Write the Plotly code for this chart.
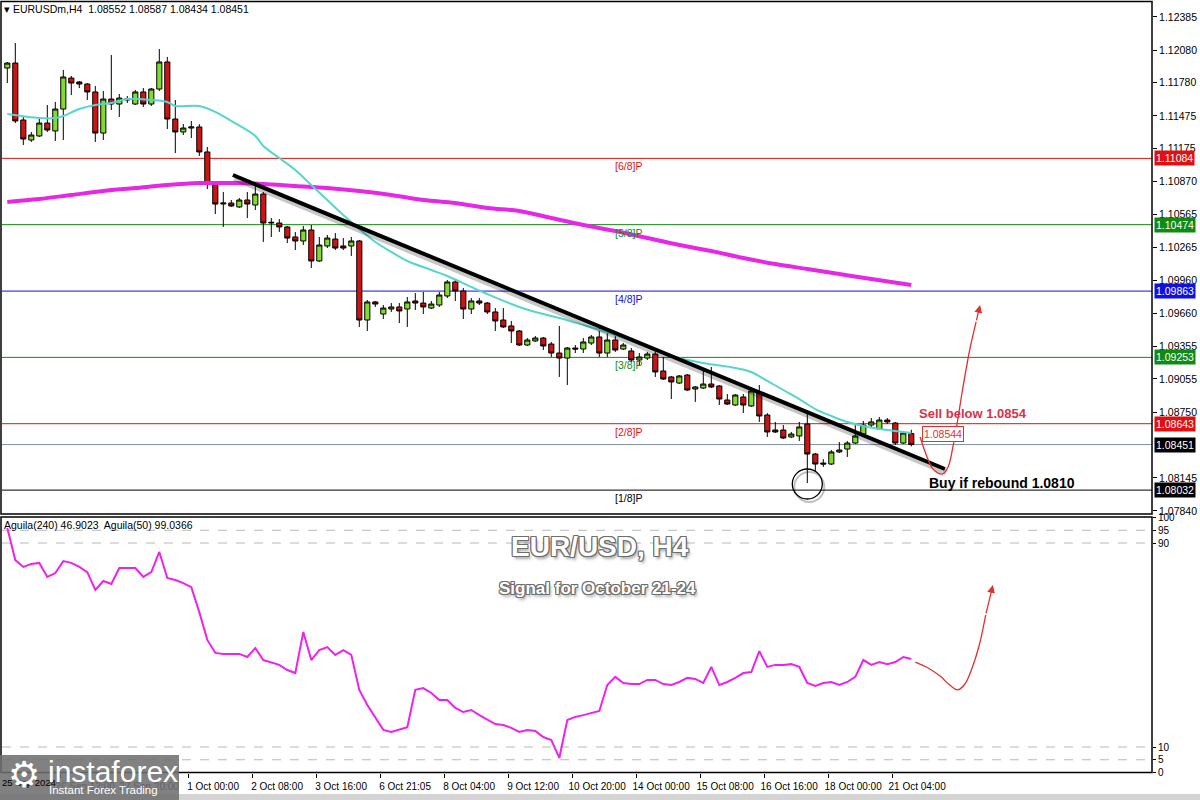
import plotly.graph_objects as go

# ---------------- data ----------------
bar = list(range(114))
open_ = [1.11915,1.11961,1.11437,1.11253,1.11290,1.11409,1.11336,1.11538,1.11823,1.11787,
         1.11768,1.11695,1.11317,1.11630,1.11584,1.11621,1.11584,1.11695,1.11584,1.11722,
         1.11971,1.11446,1.11327,1.11363,1.11373,1.11143,1.10848,1.10664,1.10673,1.10637,
         1.10701,1.10655,1.10756,1.10489,1.10489,1.10453,1.10361,1.10324,1.10425,1.10140,
         1.10278,1.10342,1.10278,1.10278,1.10324,1.09597,1.09763,1.09652,1.09698,1.09717,
         1.09698,1.09772,1.09753,1.09707,1.09735,1.09818,1.09947,1.09864,1.09698,1.09772,
         1.09753,1.09671,1.09597,1.09542,1.09496,1.09367,1.09404,1.09431,1.09376,1.09293,
         1.09247,1.09339,1.09330,1.09385,1.09441,1.09293,1.09413,1.09330,1.09312,1.09229,
         1.09247,1.09284,1.09128,1.09073,1.09017,1.09091,1.08962,1.08971,1.09008,1.08990,
         1.08861,1.08815,1.08889,1.08806,1.08935,1.08723,1.08585,1.08585,1.08521,1.08530,
         1.08640,1.08364,1.08281,1.08272,1.08383,1.08410,1.08465,1.08548,1.08631,1.08594,
         1.08677,1.08649,1.08465,1.08552]
high = [1.11971,1.12145,1.11474,1.11327,1.11455,1.11575,1.11603,1.11897,1.11842,1.11796,
        1.11777,1.11750,1.11704,1.12035,1.11676,1.11658,1.11713,1.11731,1.11731,1.12090,
        1.12017,1.11621,1.11400,1.11428,1.11400,1.11189,1.10857,1.10775,1.10701,1.10719,
        1.10775,1.10839,1.10775,1.10535,1.10526,1.10462,1.10407,1.10462,1.10471,1.10361,
        1.10379,1.10397,1.10351,1.10361,1.10333,1.09781,1.09772,1.09735,1.09753,1.09753,
        1.09809,1.09845,1.09855,1.09772,1.09855,1.09965,1.09974,1.09891,1.09799,1.09799,
        1.09763,1.09707,1.09707,1.09588,1.09505,1.09431,1.09450,1.09441,1.09395,1.09542,
        1.09349,1.09367,1.09431,1.09459,1.09523,1.09496,1.09477,1.09385,1.09339,1.09293,
        1.09303,1.09339,1.09257,1.09082,1.09091,1.09100,1.08990,1.09128,1.09165,1.08999,
        1.08916,1.08916,1.08916,1.08971,1.08999,1.08741,1.08659,1.08631,1.08567,1.08659,
        1.08732,1.08373,1.08318,1.08401,1.08475,1.08484,1.08640,1.08668,1.08695,1.08705,
        1.08695,1.08659,1.08576,1.08587]
low = [1.11777,1.11409,1.11207,1.11235,1.11281,1.11327,1.11244,1.11253,1.11667,1.11731,
       1.11621,1.11235,1.11253,1.11529,1.11465,1.11593,1.11575,1.11557,1.11566,1.11704,
       1.11354,1.11133,1.11299,1.11271,1.11106,1.10802,1.10572,1.10453,1.10637,1.10627,
       1.10535,1.10609,1.10315,1.10361,1.10407,1.10305,1.10241,1.10287,1.10075,1.10131,
       1.10259,1.10241,1.10241,1.10186,1.09533,1.09496,1.09717,1.09606,1.09671,1.09569,
       1.09533,1.09689,1.09652,1.09698,1.09717,1.09799,1.09772,1.09606,1.09652,1.09735,
       1.09652,1.09496,1.09524,1.09385,1.09358,1.09358,1.09395,1.09321,1.09257,1.09073,
       1.08999,1.09293,1.09293,1.09367,1.09257,1.09257,1.09303,1.09321,1.09211,1.09183,
       1.09229,1.09073,1.09045,1.08870,1.09008,1.08944,1.08843,1.08962,1.08971,1.08815,
       1.08815,1.08806,1.08741,1.08797,1.08659,1.08521,1.08557,1.08502,1.08511,1.08484,
       1.08097,1.08199,1.08245,1.08263,1.08373,1.08337,1.08456,1.08530,1.08613,1.08585,
       1.08640,1.08447,1.08456,1.08434]
close = [1.11961,1.11428,1.11262,1.11299,1.11409,1.11345,1.11538,1.11833,1.11777,1.11768,
         1.11695,1.11317,1.11630,1.11584,1.11639,1.11630,1.11695,1.11584,1.11722,1.11971,
         1.11446,1.11327,1.11363,1.11373,1.11143,1.10848,1.10664,1.10673,1.10646,1.10701,
         1.10664,1.10756,1.10489,1.10495,1.10453,1.10351,1.10324,1.10425,1.10140,1.10287,
         1.10351,1.10259,1.10259,1.10324,1.09597,1.09763,1.09744,1.09707,1.09717,1.09680,
         1.09763,1.09753,1.09717,1.09744,1.09827,1.09947,1.09864,1.09698,1.09772,1.09753,
         1.09671,1.09588,1.09533,1.09496,1.09367,1.09413,1.09431,1.09358,1.09293,1.09247,
         1.09339,1.09330,1.09395,1.09441,1.09293,1.09413,1.09321,1.09367,1.09229,1.09257,
         1.09284,1.09119,1.09054,1.09027,1.09082,1.08953,1.08981,1.09008,1.08981,1.08870,
         1.08824,1.08907,1.08815,1.08944,1.08714,1.08567,1.08567,1.08511,1.08548,1.08613,
         1.08364,1.08272,1.08272,1.08383,1.08401,1.08465,1.08530,1.08631,1.08659,1.08677,
         1.08659,1.08465,1.08557,1.08451]

ma_fast_x = [0,4,6,7,9,11,13,15,18,20,21,24,26,28,31,32,34,36,38,40,42,44,46,48,50,53,55,58,60,
             64,66,69,72,76,80,83,87,91,93,95,97,99,101,103,105,107,109,111,113]
ma_fast_y = [1.11492,1.11455,1.11455,1.11474,1.11538,1.11575,1.11593,1.11630,1.11621,1.11603,
             1.11566,1.11566,1.11511,1.11428,1.11290,1.11198,1.11087,1.10977,1.10839,1.10701,
             1.10563,1.10434,1.10315,1.10223,1.10140,1.10057,1.10002,1.09901,1.09836,1.09717,
             1.09671,1.09616,1.09551,1.09459,1.09349,1.09266,1.09201,1.09155,1.09119,1.09036,
             1.08953,1.08870,1.08778,1.08714,1.08659,1.08622,1.08594,1.08576,1.08557]

ma_slow_x = [0,4,8,12,16,20,24,28,32,36,40,44,48,52,56,60,64,68,72,76,80,84,88,92,96,100,104,108,113]
ma_slow_y = [1.10683,1.10710,1.10747,1.10784,1.10811,1.10839,1.10857,1.10857,1.10848,1.10829,
             1.10811,1.10784,1.10747,1.10701,1.10673,1.10627,1.10600,1.10535,1.10471,1.10416,
             1.10351,1.10287,1.10232,1.10167,1.10112,1.10066,1.10020,1.09974,1.09919]

aguila = [95.9,83.3,80.6,81.8,82.2,76.7,78.2,82.9,82.2,80.6,78.6,71.6,75.1,73.9,80.2,80.2,80.2,76.7,78.6,86.5,
          76.3,75.5,74.3,72.7,62.9,52.0,46.9,46.5,46.5,46.5,45.3,48.8,44.1,43.3,42.2,40.2,39.0,55.1,44.1,48.0,
          49.2,46.1,48.0,46.1,32.4,26.5,21.4,16.7,15.9,16.7,17.8,32.4,33.1,31.2,28.4,28.4,25.3,23.7,24.5,22.5,
          20.6,19.0,18.6,17.5,15.9,16.7,16.3,13.9,12.7,5.7,20.6,21.8,22.5,23.3,24.1,34.3,37.5,35.1,34.7,34.7,
          36.3,36.3,34.7,34.3,35.5,37.1,36.7,35.1,41.4,34.3,35.5,37.1,39.0,39.4,47.6,41.4,42.2,42.2,42.5,41.4,
          35.1,33.9,35.1,35.5,34.3,35.5,37.5,44.1,42.2,43.3,42.5,43.3,45.3,44.5]

trend_x = [28.2, 117.2]
trend_y = [1.10931, 1.08226]

fc_price_x = [114.1,114.97,115.6,116.3,116.9,117.6,118.2,118.8,119.4,120.3,121.1]
fc_price_y = [1.08521,1.08337,1.08236,1.08190,1.08180,1.08245,1.08429,1.08677,1.08953,1.09321,1.09579]
fc_price_tip = (121.6, 1.09735)

fc_ind_x = [113.5,115.1,116.6,117.8,118.8,119.7,120.6,121.5,122.3]
fc_ind_y = [43.3,41.0,37.8,34.3,32.4,34.7,41.0,50.0,61.8]
fc_ind_tip = (123.2, 73.5)

circle_bar, circle_price = 100, 1.08088

levels = [1.11084, 1.10474, 1.09863, 1.09253, 1.08643, 1.08032]
level_names = ["[6/8]P", "[5/8]P", "[4/8]P", "[3/8]P", "[2/8]P", "[1/8]P"]
level_colors = ["#e01010", "#108a10", "#1010e0", "#108a10", "#e01010", "#000000"]
last_price = 1.08451
signal_price = 1.08544

price_ticks = [1.12385,1.12080,1.11780,1.11475,1.11175,1.10870,1.10565,1.10265,1.09960,
               1.09660,1.09355,1.09055,1.08750,1.08145,1.07840]
ind_ticks = [0, 5, 10, 90, 95, 100]
ind_levels = [5, 10, 90, 95]

time_pos = [6.6,14.6,22.6,30.6,38.6,46.6,54.6,62.6,70.6,78.6,86.6,94.6,102.6,110.6]
time_labels = ["26 Sep 12:00","27 Sep 20:00","1 Oct 00:00","2 Oct 08:00","3 Oct 16:00","6 Oct 21:05",
               "8 Oct 04:00","9 Oct 12:00","10 Oct 20:00","14 Oct 00:00","15 Oct 08:00",
               "16 Oct 16:00","18 Oct 00:00","21 Oct 04:00"]

# ---------------- layout geometry ----------------
W, H = 1200, 800
XL, XR = 2, 1152
def px(x): return x / W
def py(y): return 1 - y / H
x_range = [(XL - 7.3) / 8, (XR - 7.3) / 8]
main_top, main_bot = 3, 514
y_range = [1.12541 - 0.000092 * main_bot, 1.12541 - 0.000092 * main_top]
ind_top, ind_bot = 517.5, 772.5

FONT = "Liberation Sans, Arial"
TICKFONT = dict(family=FONT, size=10.5, color="black")

fig = go.Figure()

fig.add_trace(go.Scatter(x=ma_slow_x, y=ma_slow_y, mode="lines", line=dict(color="#e628e6", width=4, shape="spline"),
                         xaxis="x", yaxis="y", hoverinfo="skip"))
fig.add_trace(go.Scatter(x=ma_fast_x, y=ma_fast_y, mode="lines", line=dict(color="#55d6cc", width=2, shape="spline"),
                         xaxis="x", yaxis="y", hoverinfo="skip"))
fig.add_trace(go.Candlestick(x=bar, open=open_, high=high, low=low, close=close,
                             increasing=dict(line=dict(color="black", width=1), fillcolor="#84dc2a"),
                             decreasing=dict(line=dict(color="black", width=1), fillcolor="#cc1414"),
                             whiskerwidth=0, xaxis="x", yaxis="y"))
fig.add_trace(go.Scatter(x=[v + 0.2 for v in trend_x], y=[v - 0.00030 for v in trend_y], mode="lines",
                         line=dict(color="rgba(0,0,0,0.22)", width=6), xaxis="x", yaxis="y", hoverinfo="skip"))
fig.add_trace(go.Scatter(x=trend_x, y=trend_y, mode="lines", line=dict(color="black", width=4),
                         xaxis="x", yaxis="y", hoverinfo="skip"))
fig.add_trace(go.Scatter(x=fc_price_x, y=fc_price_y, mode="lines", line=dict(color="#e03030", width=1.3, shape="spline"),
                         xaxis="x", yaxis="y", hoverinfo="skip"))
fig.add_trace(go.Scatter(x=bar, y=aguila, mode="lines", line=dict(color="#ee22ee", width=2),
                         xaxis="x2", yaxis="y2", hoverinfo="skip"))
fig.add_trace(go.Scatter(x=fc_ind_x, y=fc_ind_y, mode="lines", line=dict(color="#e03030", width=1.3, shape="spline"),
                         xaxis="x2", yaxis="y2", hoverinfo="skip"))

shapes = []
for lv, c in zip(levels, level_colors):
    shapes.append(dict(type="line", xref="paper", yref="y", x0=px(XL), x1=px(XR), y0=lv, y1=lv,
                       line=dict(color=c, width=1), layer="below"))
shapes.append(dict(type="line", xref="paper", yref="y", x0=px(XL), x1=px(XR), y0=last_price, y1=last_price,
                   line=dict(color="#8090a0", width=1), layer="below"))
for lv in ind_levels:
    shapes.append(dict(type="line", xref="paper", yref="y2", x0=px(XL), x1=px(XR), y0=lv, y1=lv,
                       line=dict(color="#b8b8b8", width=1, dash="dash"), layer="below"))
shapes.append(dict(type="circle", xref="x", yref="y", xsizemode="pixel", ysizemode="pixel",
                   xanchor=circle_bar, yanchor=circle_price, x0=-13, x1=17, y0=-18, y1=12,
                   line=dict(color="rgba(0,0,0,0.25)", width=2)))
shapes.append(dict(type="circle", xref="x", yref="y", xsizemode="pixel", ysizemode="pixel",
                   xanchor=circle_bar, yanchor=circle_price, x0=-15, x1=15, y0=-15, y1=15,
                   line=dict(color="black", width=1.3)))
shapes.append(dict(type="rect", xref="paper", yref="paper", x0=px(1), x1=px(XR), y0=py(main_bot), y1=py(1.5),
                   line=dict(color="black", width=1.5)))
shapes.append(dict(type="rect", xref="paper", yref="paper", x0=px(1), x1=px(XR), y0=py(ind_bot), y1=py(ind_top - 0.5),
                   line=dict(color="black", width=1.5)))
shapes.append(dict(type="rect", xref="paper", yref="paper", x0=0, x1=1, y0=0, y1=py(794),
                   fillcolor="#d4d4d4", line=dict(width=0), layer="below"))
shapes.append(dict(type="rect", xref="paper", yref="paper", x0=0, x1=px(179), y0=0, y1=py(755),
                   fillcolor="rgba(112,112,112,0.88)", line=dict(width=0), layer="above"))


def text(x, y, t, size, color, xanchor="left", xref="paper", yref="paper", shadow=None, **kw):
    font = dict(family=kw.pop("family", FONT), size=size, color=color)
    if shadow:
        font["shadow"] = shadow
    return dict(xref=xref, yref=yref, x=x, y=y, xanchor=xanchor, yanchor="middle", text=t, showarrow=False,
                font=font, **kw)


ann = []
for lv, name, c in zip(levels, level_names, level_colors):
    ann.append(text(px(628), lv, name, 10.5, c, xanchor="center", yref="y", yshift=-8))
box_vals = levels + [last_price]
box_cols = level_colors + ["#000000"]
for lv, c in zip(box_vals, box_cols):
    ann.append(text(px(1153.5), lv, f"{lv:.5f}", 10.5, "white", yref="y", bgcolor=c, borderpad=1))
ann.append(text(px(922), signal_price, f"{signal_price:.5f}", 10.5, "#e03030", yref="y",
                bgcolor="white", bordercolor="#e03030", borderwidth=1, borderpad=1))
ann.append(text(px(917), py(414), "<b>Sell below 1.0854</b>", 13, "#d8324a"))
ann.append(text(px(927), py(483), "<b>Buy if rebound 1.0810</b>", 14, "black"))
ann.append(dict(xref="x", yref="y", axref="x", ayref="y", x=fc_price_tip[0], y=fc_price_tip[1],
                ax=fc_price_x[-1], ay=fc_price_y[-1], showarrow=True, arrowhead=2, arrowsize=1.2,
                arrowwidth=1.3, arrowcolor="#e03030", text=""))
ann.append(dict(xref="x2", yref="y2", axref="x2", ayref="y2", x=fc_ind_tip[0], y=fc_ind_tip[1],
                ax=fc_ind_x[-1], ay=fc_ind_y[-1], showarrow=True, arrowhead=2, arrowsize=1.2,
                arrowwidth=1.3, arrowcolor="#e03030", text=""))
ann.append(text(px(2), py(9), "▾ EURUSDm,H4  1.08552 1.08587 1.08434 1.08451", 10.5, "black"))
ann.append(text(px(2), py(525), "Aguila(240) 46.9023  Aguila(50) 99.0366", 10.5, "black"))
ann.append(text(px(0), py(782), "25 Sep 2024", 9.5, "black"))

OUTLINE = ("-1px -1px 0 #6e6e6e, 1px -1px 0 #6e6e6e, -1px 1px 0 #6e6e6e, 1px 1px 0 #6e6e6e, "
           "0 -1px 0 #6e6e6e, 0 1px 0 #6e6e6e, -1px 0 0 #6e6e6e, 1px 0 0 #6e6e6e, 2px 3px 3px rgba(0,0,0,0.35)")
ann.append(text(px(600), py(546), "<b>EUR/USD, H4</b>", 28, "white", xanchor="center", shadow=OUTLINE))
ann.append(text(px(597), py(588), "<b>Signal for October 21-24</b>", 17, "white", xanchor="center", shadow=OUTLINE))

ann.append(text(px(24), py(774), "⚙", 36, "white", xanchor="center", family="DejaVu Sans"))
ann.append(text(px(46), py(771), "instaforex", 30, "white"))
ann.append(text(px(47), py(790), "Instant Forex Trading", 11.5, "white"))

fig.update_layout(
    width=W, height=H, margin=dict(l=0, r=0, t=0, b=0),
    paper_bgcolor="white", plot_bgcolor="white", showlegend=False,
    boxgap=0.2, boxgroupgap=0.2,
    xaxis=dict(domain=[px(XL), px(XR)], range=x_range, anchor="y", showticklabels=False, showgrid=False,
               zeroline=False, showline=False, ticks="", rangeslider=dict(visible=False), fixedrange=True),
    yaxis=dict(domain=[py(main_bot), py(main_top)], range=y_range, anchor="x", side="right",
               tickvals=price_ticks, ticktext=[f"{v:.5f}" for v in price_ticks], ticks="outside", ticklen=4,
               tickcolor="black", tickfont=TICKFONT, showgrid=False, zeroline=False, showline=False,
               automargin=False),
    xaxis2=dict(domain=[px(XL), px(XR)], range=x_range, anchor="y2", tickvals=time_pos, ticktext=time_labels,
                ticks="outside", ticklen=4, tickcolor="black", ticklabelshift=25, tickangle=0,
                tickfont=dict(family=FONT, size=10, color="black"),
                showgrid=False, zeroline=False, showline=False, automargin=False),
    yaxis2=dict(domain=[py(ind_bot), py(ind_top)], range=[0, 100], anchor="x2", side="right",
                tickvals=ind_ticks, ticktext=[str(v) for v in ind_ticks], ticks="outside", ticklen=3,
                tickcolor="black", tickfont=dict(family=FONT, size=10, color="black"),
                showgrid=False, zeroline=False, showline=False, automargin=False),
    shapes=shapes, annotations=ann,
)

fig.write_html("out.html", config={"displayModeBar": False},
               post_script="document.body.style.margin='0';document.body.style.padding='0';"
                           "document.body.style.overflow='hidden';"
                           "document.documentElement.style.overflow='hidden';")
